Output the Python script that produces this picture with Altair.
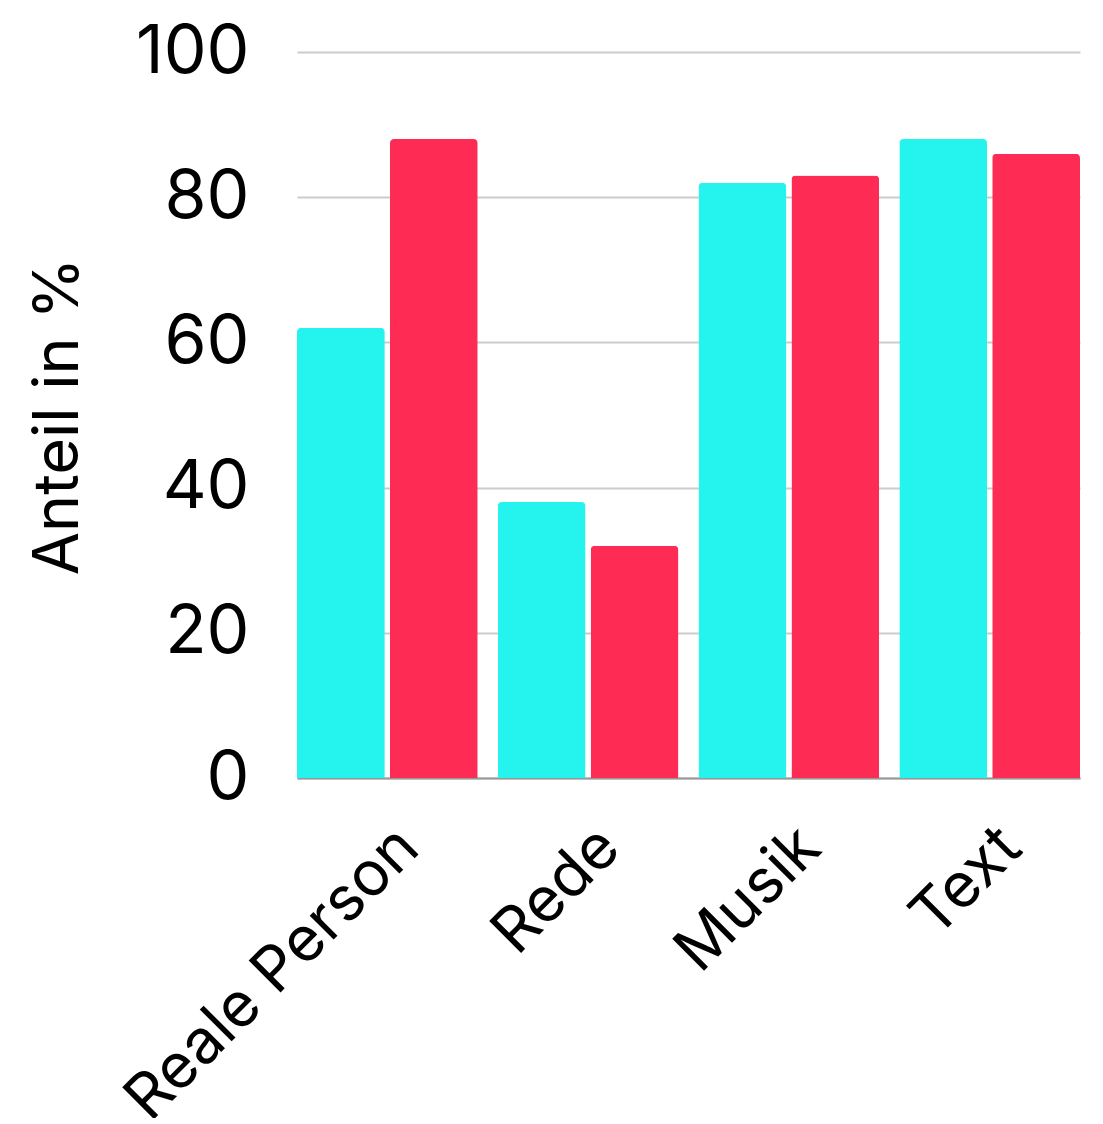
import altair as alt
import pandas as pd

categories = ["Reale Person", "Rede", "Musik", "Text"]
series_names = ["Gruppe 1", "Gruppe 2"]
values_1 = [62, 38, 82, 88]
values_2 = [88, 32, 83, 86]
colors = ["#25F4EE", "#FE2C55"]
y_ticks = [0, 20, 40, 60, 80, 100]

rows = []
for c, a, b in zip(categories, values_1, values_2):
    rows.append({"Kategorie": c, "Gruppe": series_names[0], "Wert": a})
    rows.append({"Kategorie": c, "Gruppe": series_names[1], "Wert": b})
df = pd.DataFrame(rows)

FONT = "Inter"

chart = (
    alt.Chart(df)
    .mark_bar(cornerRadiusTopLeft=4, cornerRadiusTopRight=4)
    .encode(
        x=alt.X(
            "Kategorie:N",
            sort=categories,
            title=None,
            scale=alt.Scale(paddingInner=0.1, paddingOuter=0),
            axis=alt.Axis(
                labelAngle=-45,
                labelFontSize=62,
                labelFont=FONT,
                labelColor="#000000",
                labelPadding=38,
                labelLimit=0,
                ticks=False,
                tickSize=0,
                domain=True,
                domainColor="#999999",
                domainWidth=2,
                grid=False,
            ),
        ),
        xOffset=alt.XOffset(
            "Gruppe:N", sort=series_names, scale=alt.Scale(paddingInner=0.055, paddingOuter=0)
        ),
        y=alt.Y(
            "Wert:Q",
            title="Anteil in %",
            scale=alt.Scale(domain=[0, 100], nice=False),
            axis=alt.Axis(
                values=y_ticks,
                labelFontSize=68,
                labelFont=FONT,
                labelColor="#000000",
                labelPadding=48,
                ticks=False,
                tickSize=0,
                domain=False,
                grid=True,
                gridColor="#CCCCCC",
                gridWidth=2,
                titleFont=FONT,
                titleFontSize=63,
                titleFontWeight="normal",
                titleColor="#000000",
                titleX=-239,
                titleY=364,
                titleAngle=-90,
                titleAlign="center",
                titleBaseline="middle",
            ),
        ),
        color=alt.Color(
            "Gruppe:N",
            sort=series_names,
            scale=alt.Scale(domain=series_names, range=colors),
            legend=None,
        ),
    )
    .properties(
        width=783,
        height=726,
        autosize=alt.AutoSizeParams(type="none"),
        padding={"left": 289, "top": 44, "right": 15, "bottom": 340},
    )
    .configure_view(stroke=None)
    .configure_axis(labelFont=FONT, titleFont=FONT)
)

chart.save("out.html", embed_options={"renderer": "svg", "actions": False})
